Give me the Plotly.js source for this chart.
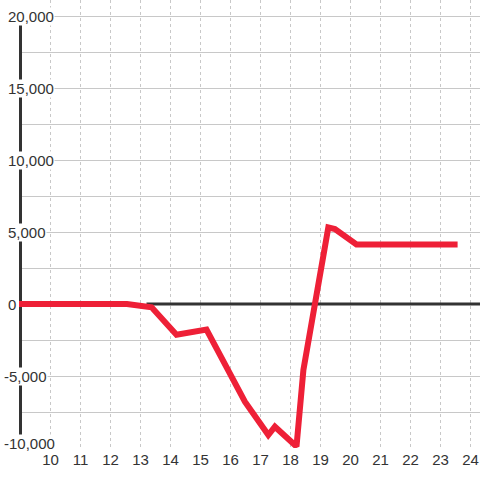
<!DOCTYPE html>
<html><head><meta charset="utf-8">
<script src="https://cdn.plot.ly/plotly-3.0.1.min.js"></script>
<style>html,body{margin:0;padding:0;background:#fff}</style>
</head><body><div id="chart" style="width:480px;height:480px"></div>
<script>
// Data
const hours = [8.9, 12.55, 13.37, 14.2, 15.2, 16.48, 17.26, 17.48, 18.2, 18.43, 19.26, 19.48, 20.2, 23.57];
const values = [0, 0, -230, -2130, -1780, -6780, -9100, -8520, -9900, -4580, 5320, 5200, 4130, 4130];
const xTickVals = [10, 11, 12, 13, 14, 15, 16, 17, 18, 19, 20, 21, 22, 23, 24];
const xTickText = ['10', '11', '12', '13', '14', '15', '16', '17', '18', '19', '20', '21', '22', '23', '24'];
const yTickVals = [-10000, -5000, 0, 5000, 10000, 15000, 20000];
const yTickText = ['-10,000', '-5,000', '0', '5,000', '10,000', '15,000', '20,000'];
const baselineStart = 13.2;
const xRange = [8.95, 24.3167];
const yRange = [-10000, 21111];

const labelFont = {family: 'Liberation Sans, Arial, sans-serif', size: 15, color: '#333'};
const yMin = Math.min(...yTickVals), yMax = Math.max(...yTickVals);

const annotations = yTickVals.map((v, i) => ({
  xref: 'paper', x: 0, xanchor: 'left',
  xshift: yTickText[i].startsWith('-') ? -16 : -12,
  yref: 'y', y: v, yanchor: 'middle',
  yshift: v === yMin ? 5 : 0,
  text: yTickText[i], showarrow: false,
  bgcolor: '#fff', borderpad: 0, font: labelFont
}));

const shapes = [
  {type: 'line', layer: 'between', xref: 'x', yref: 'y', x0: 9, x1: 9, y0: yMin, y1: yMax,
   line: {color: '#333', width: 3}},
  {type: 'line', layer: 'between', xref: 'x', yref: 'y', x0: baselineStart, x1: xRange[1], y0: 0, y1: 0,
   line: {color: '#333', width: 3}}
];

const trace = {
  x: hours, y: values, type: 'scatter', mode: 'lines',
  line: {color: '#ee2037', width: 6},
  hoverinfo: 'skip'
};

const layout = {
  width: 480, height: 480,
  margin: {l: 19, r: 0, t: 0, b: 32, pad: 0},
  paper_bgcolor: '#fff', plot_bgcolor: '#fff',
  showlegend: false,
  xaxis: {
    range: xRange, tickvals: xTickVals, ticktext: xTickText,
    showgrid: true, gridcolor: '#c8c8c8', gridwidth: 1, griddash: 'dot',
    zeroline: false, showline: false, ticks: '', tickfont: labelFont,
    ticklabelstandoff: 1
  },
  yaxis: {
    range: yRange, tick0: 0, dtick: 2500,
    showgrid: true, gridcolor: '#c8c8c8', gridwidth: 1,
    zeroline: false, showline: false, ticks: '', showticklabels: false
  },
  shapes: shapes,
  annotations: annotations
};

Plotly.newPlot('chart', [trace], layout, {displayModeBar: false, staticPlot: true});
</script>
</body></html>
